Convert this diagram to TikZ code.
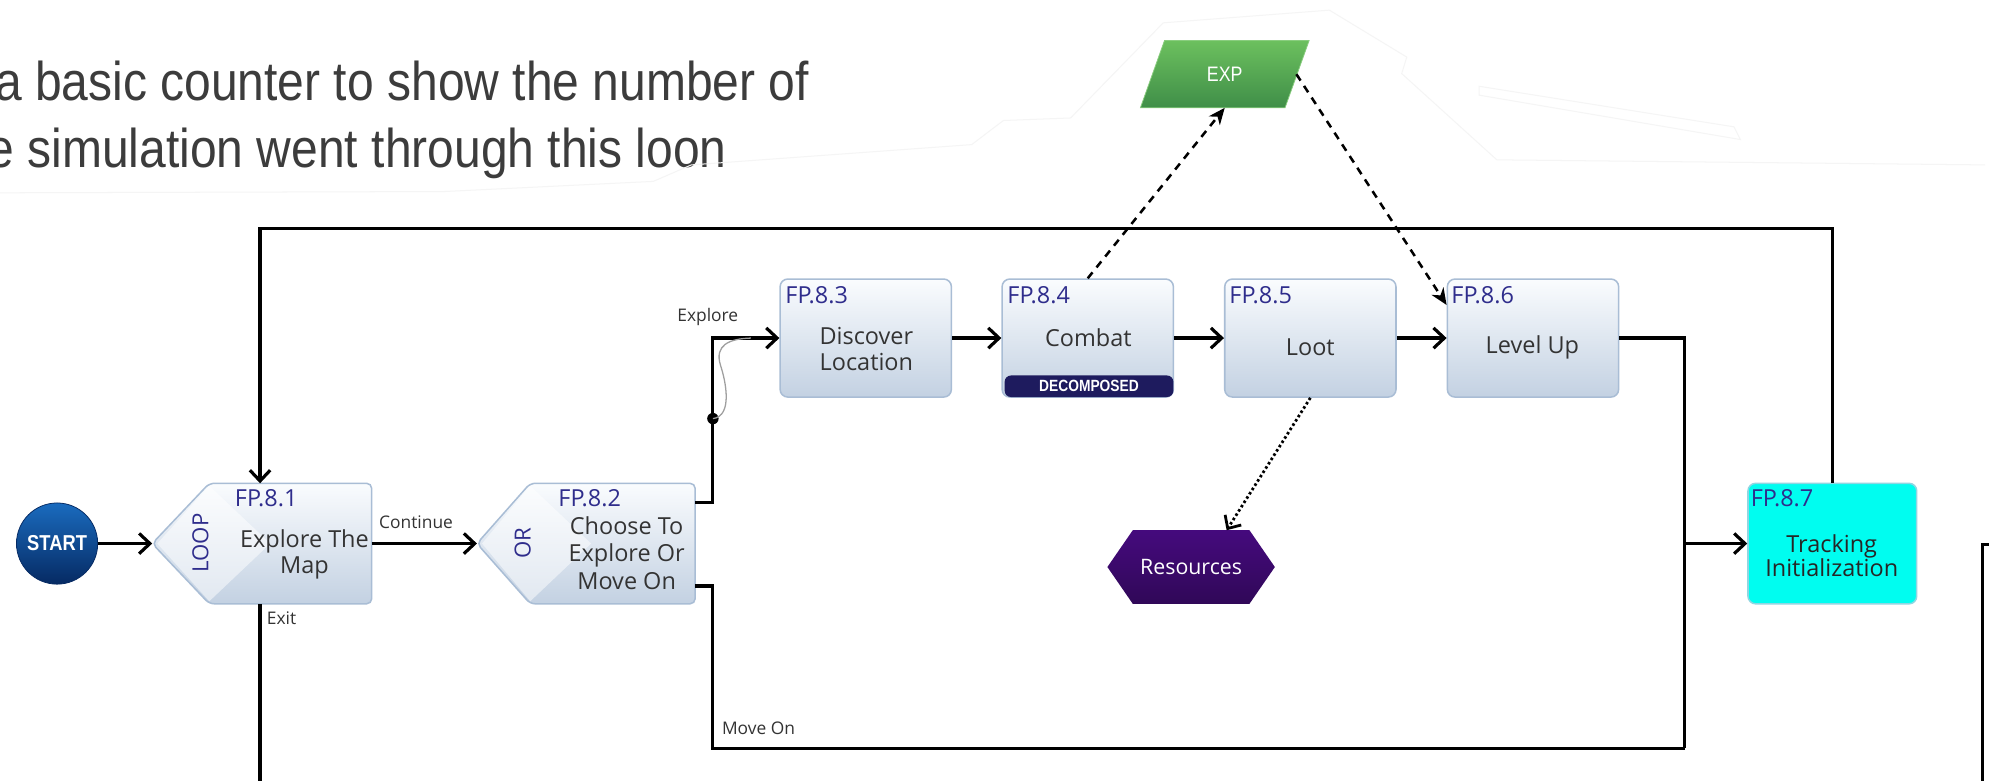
\documentclass[tikz,border=0pt]{standalone}
\usepackage{fontspec}
\setmainfont{Open Sans}
\newfontfamily\topfont[FakeStretch=0.88]{Liberation Sans}
\newfontfamily\condfont[FakeStretch=0.85]{Liberation Sans}
\usetikzlibrary{arrows.meta,calc}
\definecolor{boxtop}{HTML}{FAFCFE}
\definecolor{boxbot}{HTML}{C3D1E2}
\definecolor{boxedge}{HTML}{A9BDD5}
\definecolor{fpblue}{HTML}{2F2D8C}
\definecolor{txtgray}{HTML}{333333}
\definecolor{navy}{HTML}{1E1B5E}
\definecolor{cyanbox}{HTML}{00FDF0}
\definecolor{cyanedge}{HTML}{8FD6E2}
\definecolor{topgray}{HTML}{3C3C3C}
\definecolor{startTop}{HTML}{1A6BBE}
\definecolor{startBot}{HTML}{062A63}
\definecolor{expTop}{HTML}{6CC05E}
\definecolor{expBot}{HTML}{3F8E48}
\definecolor{resTop}{HTML}{450A7D}
\definecolor{resBot}{HTML}{300858}
\tikzset{
  flow/.style={line width=2.5pt, line join=miter, -{Straight Barb[length=8.5pt,width=16pt]}},
  plain/.style={line width=2.5pt, line join=miter},
  dashlink/.style={line width=2pt, dash pattern=on 6pt off 5pt, -{Stealth[length=13pt,width=11pt,inset=4pt]}},
  dotlink/.style={line width=2.2pt, dash pattern=on 2pt off 2pt, -{Straight Barb[length=8pt,width=15pt]}},
  fbox/.style={draw=boxedge, line width=1.2pt, rounded corners=6pt, top color=boxtop, bottom color=boxbot, minimum width=135pt, minimum height=93pt, inner sep=0pt},
  cbox/.style={draw=cyanedge, line width=1.2pt, rounded corners=6pt, fill=cyanbox, minimum width=133pt, minimum height=95pt, inner sep=0pt},
  anchorbox/.style={inner sep=0pt, outer sep=0pt},
  gateshape/.style={draw=boxedge, line width=1.2pt, rounded corners=4pt, top color=boxtop, bottom color=boxbot},
  fplabel/.style={anchor=base west, inner sep=0pt, text=fpblue, font=\fontsize{18.5}{20}\selectfont},
  gatelabel/.style={rotate=90, inner sep=0pt, text=fpblue, font=\fontsize{17.5}{20}\selectfont},
  btext/.style={align=center, text=txtgray, font=\fontsize{18.5}{20.5}\selectfont, inner sep=0pt},
  edgelbl/.style={text=txtgray, font=\fontsize{13.7}{15}\selectfont, inner sep=0pt},
  toptext/.style={anchor=base west, inner sep=0pt, text=topgray, font=\topfont\fontsize{43}{46}\selectfont},
  faint/.style={draw=black!4, line width=0.8pt},
}
\begin{document}
\begin{tikzpicture}[x=1pt,y=-1pt]
\useasboundingbox (0,0) rectangle (1568,615.7);
\fill[white] (0,0) rectangle (1568,615.7);

% top text and faint overlay outline
\node[toptext] (tx1) at (-4,79) {a basic counter to show the number of};
\node[toptext] (tx2) at (-10,132) {e simulation went through this loon};
\draw[faint] (0,152) -- (350,151) -- (515,143) -- (545,130) -- (766,114) -- (791,95) -- (844,93) -- (917,18) -- (1048,8) -- (1109,45) -- (1105,58) -- (1180,126) -- (1565,130);
\draw[faint] (1166,68) -- (1367,100) -- (1372,110) -- (1166,75) -- cycle;

% START
\node[circle, minimum size=64pt, inner sep=0pt, top color=startTop, bottom color=startBot, draw=startBot, line width=0.6pt, text=white, font=\condfont\bfseries\fontsize{17}{18}\selectfont] (st) at (45,428.5) {START};

% FP.8.1 loop gate
\node[anchorbox, minimum width=173pt, minimum height=95pt] (n1) at (206.5,428.5) {};
\path[gateshape] (n1.west) -- ($(n1.north west)+(45,0)$) -- (n1.north east) -- (n1.south east) -- ($(n1.south west)+(45,0)$) -- cycle;
\fill[white, opacity=0.5] ($(n1.west)+(4,0)$) -- ($(n1.north west)+(45,2)$) -- ($(n1.west)+(93,0)$) -- ($(n1.south west)+(45,-2)$) -- cycle;
\node[gatelabel] (g1) at (158,428) {LOOP};
\node[fplabel] (f1) at (185,399) {FP.8.1};
\node[btext] (t1) at (240,437) {Explore The\\Map};

% FP.8.2 OR gate
\node[anchorbox, minimum width=172pt, minimum height=95pt] (n2) at (462,428.5) {};
\path[gateshape] (n2.west) -- ($(n2.north west)+(42,0)$) -- (n2.north east) -- (n2.south east) -- ($(n2.south west)+(42,0)$) -- cycle;
\fill[white, opacity=0.5] ($(n2.west)+(4,0)$) -- ($(n2.north west)+(42,2)$) -- ($(n2.west)+(90,0)$) -- ($(n2.south west)+(42,-2)$) -- cycle;
\node[gatelabel] (g2) at (412,428) {OR};
\node[fplabel] (f2) at (440,399) {FP.8.2};
\node[btext, font=\fontsize{18.5}{21.5}\selectfont] (t2) at (494,436) {Choose To\\Explore Or\\Move On};

% function boxes
\node[fbox] (n3) at (682.5,266.5) {};
\node[fplabel] (f3) at (619,239) {FP.8.3};
\node[btext] (t3) at (683,275) {Discover\\Location};

\node[fbox] (n4) at (857.5,266.5) {};
\node[fill=navy, rounded corners=5pt, minimum width=133pt, minimum height=17pt, inner sep=0pt, text=white, font=\condfont\bfseries\fontsize{12.8}{14}\selectfont] (dec) at (858.5,304.5) {DECOMPOSED};
\node[fplabel] (f4) at (794,239) {FP.8.4};
\node[btext] (t4) at (858,266) {Combat};

\node[fbox] (n5) at (1033,266.5) {};
\node[fplabel] (f5) at (969,239) {FP.8.5};
\node[btext] (t5) at (1033,274) {Loot};

\node[fbox] (n6) at (1208.5,266.5) {};
\node[fplabel] (f6) at (1144,239) {FP.8.6};
\node[btext] (t6) at (1208,274) {Level Up};

\node[cbox] (n7) at (1444.5,428.5) {};
\node[fplabel] (f7) at (1380,399) {FP.8.7};
\node[btext, text=black!85, font=\fontsize{18.5}{19.5}\selectfont] (t7) at (1444,438) {Tracking\\Initialization};

% EXP parallelogram
\shade[top color=expTop, bottom color=expBot, draw=expTop!80!white, line width=0.6pt] (918,32) -- (1032,32) -- (1013,85) -- (899,85) -- cycle;
\node[anchorbox, minimum width=113pt, minimum height=53pt, text=white, font=\condfont\fontsize{16.5}{18}\selectfont] (exp) at (965.5,58.5) {EXP};

% Resources hexagon
\shade[top color=resTop, bottom color=resBot] (873,447) -- (893,418) -- (985,418) -- (1005,447) -- (985,476) -- (893,476) -- cycle;
\node[anchorbox, minimum width=132pt, minimum height=58pt, text=white, font=\fontsize{16.8}{18}\selectfont] (res) at (939,447) {Resources};

% connectors
\draw[flow] (st.east) -- (n1.west);
\draw[flow] (n1.east) -- (n2.west);
\node[edgelbl] (lc) at (328,412) {Continue};

\coordinate (ex) at (562,266.5);
\draw[flow] ($(n2.east)+(0,-32.5)$) -| (ex) -- (n3.west);
\node[edgelbl] (le) at (558,250) {Explore};
\coordinate (dot) at (562,330);
\fill (dot) circle (4.5pt);
\draw[gray!75, line width=1pt] (dot) .. controls (578,328) and (572,300) .. (568,288) .. controls (563,272) and (575,267) .. (592,266.5);

\draw[flow] (n3.east) -- (n4.west);
\draw[flow] (n4.east) -- (n5.west);
\draw[flow] (n5.east) -- (n6.west);

\coordinate (mo) at (562,590);
\coordinate (jr) at (1328,590);
\draw[plain] ($(n2.east)+(0,33.5)$) -| (mo) -- (jr);
\node[edgelbl, anchor=west] (lm) at (569,574) {Move On};
\draw[plain] (n6.east) -| (jr);
\draw[flow] (jr |- n7.west) -- (n7.west);

\coordinate (lt) at (205,180);
\draw[flow] (n7.north) |- (lt) -- (lt |- n1.north);

\coordinate (bot) at (205,615.7);
\draw[plain] (lt |- n1.south) -- (bot);
\node[edgelbl] (lx) at (222,487) {Exit};

\coordinate (rt) at (1568,429);
\coordinate (rb) at (1563,615.7);
\draw[plain] (rt) -| (rb);

\draw[dashlink] (n4.north) -- (exp.south);
\draw[dashlink] (exp.east) -- ($(n6.north west)+(0,21)$);
\draw[dotlink] (n5.south) -- ($(res.north)+(28,0)$);
\end{tikzpicture}
\end{document}
